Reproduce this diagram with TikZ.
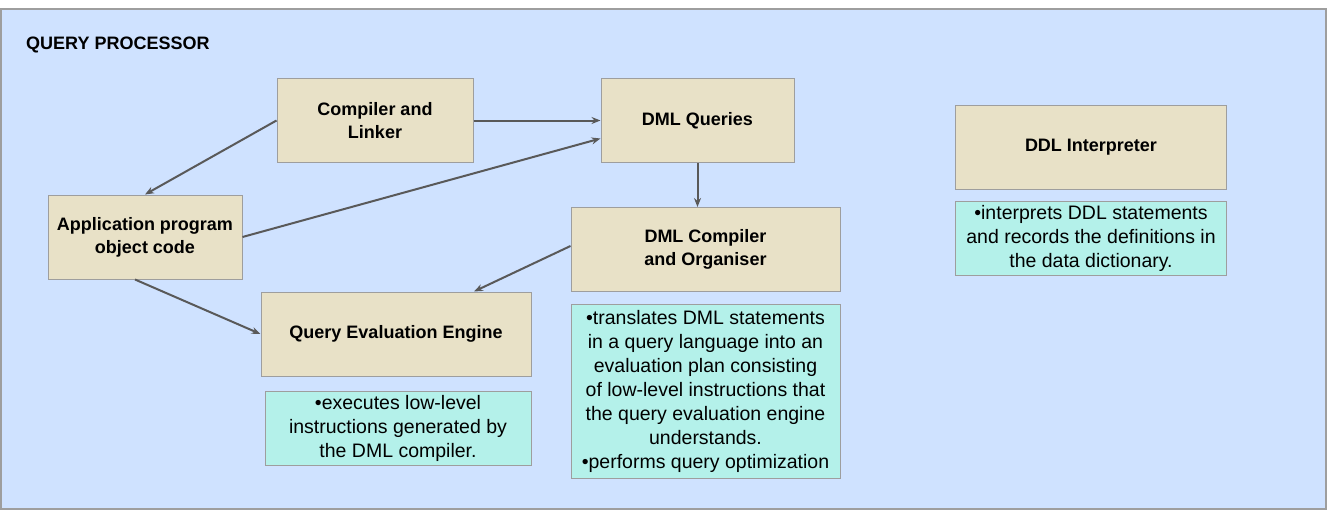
\documentclass[tikz,border=0pt]{standalone}
\usepackage{fontspec}
\setmainfont{Liberation Sans}
\usepackage{xcolor}
\usepackage{tikz}
\usetikzlibrary{positioning,arrows.meta}
\definecolor{qpBlue}{HTML}{CFE2FF}
\definecolor{qpTan}{HTML}{E8E1C7}
\definecolor{qpMint}{HTML}{B4F1EA}
\definecolor{qpEdge}{HTML}{9E9E9E}
\definecolor{qpArrow}{HTML}{595959}

\begin{document}
\begin{tikzpicture}[x=1pt, y=-1pt, stage/.style={rectangle, draw=qpEdge, line width=1pt, fill=qpTan, font=\fontsize{18}{23}\selectfont\bfseries, align=center, inner sep=0pt, minimum height=84pt}, note/.style={rectangle, draw=qpEdge, line width=1pt, fill=qpMint, font=\fontsize{19.5}{24}\selectfont, align=center, inner sep=0pt}, flow/.style={-{Stealth[length=9pt,width=7pt]}, line width=2pt, qpArrow}]
\useasboundingbox (0,0) rectangle (1331,511);
\draw[draw=qpEdge, line width=1.5pt, fill=qpBlue] (1,9) rectangle (1326,509);
\node (title) [anchor=west, inner sep=0pt, font=\fontsize{18}{22}\selectfont\bfseries] at (26,45) {QUERY PROCESSOR};
\node (linker) [stage, minimum width=196pt] at (375,120.5) {Compiler and\\Linker};
\node (queries) [stage, minimum width=193pt] at (697.5,120.5) {DML Queries};
\node (app) [stage, minimum width=194pt] at (145,237) {Application program\\object code};
\node (dmlcomp) [stage, minimum width=269pt] at (705.5,249.5) {DML Compiler\\and Organiser};
\node (qee) [stage, minimum width=270pt] at (396,334) {Query Evaluation Engine};
\node (ddl) [stage, minimum width=271pt] at (1091,147) {DDL Interpreter};
\node (execnote) [note, below=14pt of qee, xshift=2pt, minimum width=266pt, minimum height=74pt] {•executes low-level\\instructions generated by\\the DML compiler.};
\node (compnote) [note, below=12pt of dmlcomp, minimum width=269pt, minimum height=174pt] {•translates DML statements\\in a query language into an\\evaluation plan consisting\\of low-level instructions that\\the query evaluation engine\\understands.\\•performs query optimization};
\node (ddlnote) [note, below=11pt of ddl, minimum width=271pt, minimum height=74pt] {•interprets DDL statements\\and records the definitions in\\the data dictionary.};
\draw[flow] (linker.west) -- (app.north);
\draw[flow] (linker.east) -- (queries.west);
\draw[flow] (app.east) -- ([yshift=-18pt]queries.west);
\draw[flow] (queries.south) -- (queries.south |- dmlcomp.north);
\draw[flow] ([yshift=3.5pt]dmlcomp.west) -- ([xshift=78pt]qee.north);
\draw[flow] ([xshift=-10pt]app.south) -- (qee.west);
\end{tikzpicture}
\end{document}
